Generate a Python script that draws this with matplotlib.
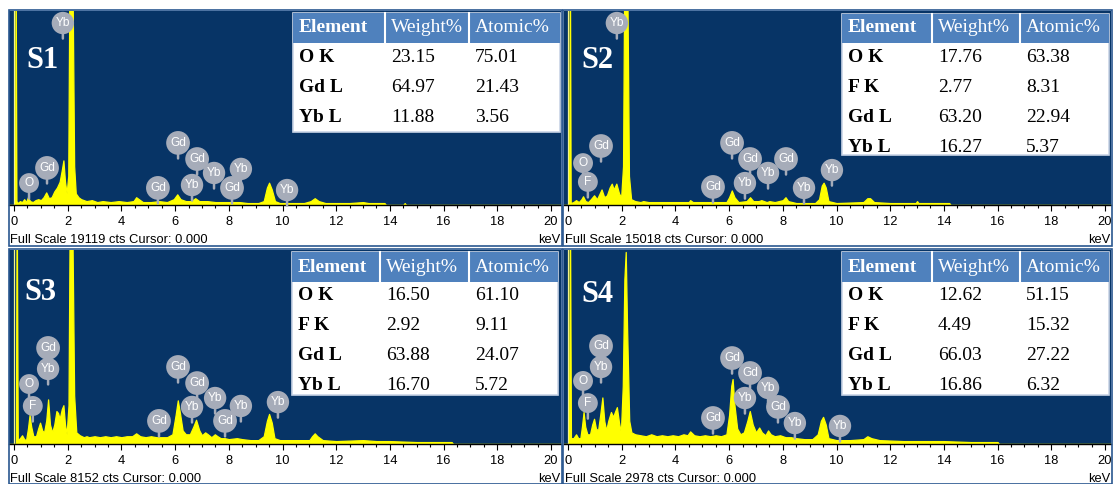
from matplotlib import pyplot as plt
from matplotlib.patches import Rectangle

W, H = 1116, 484

names = ['S1', 'S2', 'S3', 'S4']
full_scale = [19119, 15018, 8152, 2978]

# spectra: (energy keV, intensity % of full scale)
s1_spec = [(-0.2, 0), (0.04, 0), (0.06, 130), (0.09, 2), (0.15, 1), (0.22, 2), (0.3, 1.5), (0.38, 3),
           (0.45, 1.5), (0.52, 4), (0.6, 2), (0.7, 1.5), (0.8, 2.5), (0.9, 3), (1.0, 2.5), (1.1, 4),
           (1.2, 6.5), (1.3, 3.5), (1.4, 4), (1.5, 7), (1.6, 9), (1.7, 12), (1.78, 18), (1.84, 23),
           (1.9, 12), (1.96, 6), (2.02, 15), (2.07, 130), (2.17, 130), (2.24, 20), (2.3, 6), (2.4, 4),
           (2.5, 3), (2.7, 2), (2.9, 2.5), (3.1, 1.5), (3.3, 2), (3.6, 1.5), (3.9, 2), (4.2, 1.5),
           (4.45, 2), (4.55, 4), (4.65, 3), (4.8, 1.5), (5.1, 1.5), (5.4, 2), (5.7, 1.5), (5.95, 3),
           (6.08, 5.5), (6.2, 3), (6.4, 2), (6.6, 2), (6.75, 3.5), (6.9, 2), (7.2, 2), (7.5, 1.5),
           (7.8, 1.5), (8.1, 1.5), (8.4, 1.5), (8.7, 1), (9.1, 1), (9.3, 2), (9.42, 9), (9.5, 11.5),
           (9.6, 8), (9.72, 2), (9.9, 1), (10.8, 1), (11.05, 2), (11.2, 3.5), (11.35, 2), (11.6, 1),
           (12.5, 1), (13.0, 1.5), (13.2, 1), (13.8, 1), (13.85, 0), (14.5, 0), (14.55, 1), (14.6, 0),
           (20.5, 0)]
s2_spec = [(-0.2, 0), (0.04, 0), (0.07, 130), (0.1, 1), (0.2, 1.5), (0.3, 2.5), (0.4, 1.5), (0.5, 3),
           (0.56, 4.5), (0.65, 2), (0.75, 1.5), (0.85, 3), (0.97, 5), (1.08, 3), (1.25, 8), (1.35, 4),
           (1.45, 5), (1.55, 9), (1.63, 11), (1.7, 8), (1.8, 11), (1.9, 6), (1.98, 4), (2.05, 20),
           (2.1, 130), (2.2, 130), (2.27, 15), (2.35, 3), (2.5, 2), (2.7, 1.5), (2.8, 2), (3.0, 1.5),
           (3.4, 1.5), (3.8, 1.5), (4.2, 1.5), (4.5, 1.5), (4.55, 2.5), (4.65, 1.5), (5.2, 1.5),
           (5.9, 1.5), (6.0, 4), (6.1, 7.5), (6.2, 4), (6.35, 1.5), (6.65, 2), (6.78, 4), (6.9, 2),
           (7.1, 2), (7.2, 2.5), (7.4, 1.5), (7.5, 2), (7.7, 1.5), (8.0, 2.5), (8.1, 4), (8.2, 2),
           (8.5, 1), (9.2, 1), (9.35, 3), (9.45, 10), (9.52, 11.5), (9.6, 9), (9.7, 2), (10.0, 1),
           (11.0, 1.5), (11.15, 3.5), (11.25, 3.5), (11.4, 1.5), (12.0, 1), (12.95, 1), (13.0, 2),
           (13.05, 1), (14.2, 1), (14.25, 0), (20.5, 0)]
s3_spec = [(-0.2, 0), (0.07, 0), (0.1, 130), (0.14, 2), (0.22, 3), (0.3, 4.5), (0.38, 2.5), (0.45, 2),
           (0.52, 8), (0.58, 15), (0.64, 9), (0.72, 4), (0.82, 4), (0.9, 8), (0.97, 11), (1.05, 7),
           (1.12, 6), (1.2, 12), (1.27, 23), (1.34, 10), (1.42, 6), (1.5, 10), (1.58, 17), (1.64, 16),
           (1.7, 13), (1.78, 18), (1.84, 20), (1.9, 10), (1.96, 5), (2.03, 20), (2.08, 130),
           (2.16, 130), (2.24, 25), (2.32, 6), (2.45, 4.5), (2.6, 3.5), (2.7, 4), (2.8, 3.5), (3.0, 4),
           (3.2, 3.5), (3.4, 4), (3.6, 3.5), (3.8, 4), (4.0, 3.5), (4.2, 4), (4.4, 4), (4.55, 5.5),
           (4.7, 4), (4.9, 3.5), (5.1, 4), (5.3, 3.5), (5.5, 3.5), (5.7, 3.5), (5.9, 5), (6.02, 15),
           (6.1, 22.5), (6.18, 16), (6.28, 7), (6.4, 5), (6.55, 5), (6.68, 9), (6.78, 12.5), (6.9, 7),
           (7.0, 4.5), (7.12, 6), (7.22, 5), (7.35, 3.5), (7.48, 5), (7.58, 4), (7.7, 3), (7.85, 3),
           (8.0, 2.5), (8.3, 3), (8.5, 2.5), (8.8, 2), (9.1, 2), (9.3, 4), (9.42, 12), (9.5, 15.5),
           (9.6, 11), (9.7, 3), (9.9, 2), (10.5, 2), (11.0, 2), (11.1, 4), (11.2, 5.5), (11.3, 4),
           (11.5, 2), (12.0, 1.5), (13.0, 2), (13.5, 1.5), (14.0, 1.5), (15.0, 1), (16.3, 1),
           (16.35, 0), (20.5, 0)]
s4_spec = [(-0.2, 0), (0.04, 0), (0.07, 130), (0.11, 3), (0.2, 3), (0.3, 5), (0.38, 3), (0.46, 3),
           (0.52, 9), (0.58, 16.5), (0.64, 9), (0.72, 5), (0.82, 5), (0.9, 10), (0.97, 13), (1.04, 8),
           (1.12, 7), (1.2, 15), (1.28, 24), (1.35, 12), (1.42, 7), (1.5, 12), (1.6, 16.5), (1.68, 14),
           (1.76, 17), (1.82, 19), (1.9, 11), (1.97, 6), (2.04, 30), (2.1, 85), (2.15, 99), (2.2, 60),
           (2.28, 12), (2.36, 6), (2.5, 5), (2.7, 4.5), (2.9, 4), (3.1, 5), (3.3, 4), (3.5, 4.5),
           (3.7, 4), (3.9, 4.5), (4.1, 4), (4.3, 5), (4.45, 4.5), (4.55, 6.5), (4.7, 4.5), (4.9, 4),
           (5.1, 4.5), (5.3, 4), (5.5, 4.5), (5.7, 4), (5.9, 5), (6.0, 15), (6.08, 30), (6.13, 33.5),
           (6.2, 20), (6.3, 8), (6.42, 5), (6.55, 6), (6.68, 12), (6.77, 17), (6.88, 10), (7.0, 6),
           (7.12, 8.5), (7.22, 6), (7.35, 4.5), (7.45, 7), (7.55, 5), (7.7, 4), (7.9, 4.5), (8.1, 3.5),
           (8.3, 3.5), (8.5, 3), (8.8, 2.5), (9.1, 2.5), (9.3, 5), (9.42, 12), (9.5, 14), (9.6, 10),
           (9.7, 3), (10.0, 2), (10.5, 2), (11.0, 2.5), (11.15, 4), (11.3, 3), (11.6, 2), (12.5, 1.5),
           (14.0, 1.5), (15.0, 1), (16.0, 1), (16.05, 0), (20.5, 0)]
spectra = [s1_spec, s2_spec, s3_spec, s4_spec]

# peak markers: (element, keV, height % of the balloon centre)
s1_marks = [('Yb', 1.82, 93.8), ('O', 0.56, 11.3), ('Gd', 1.23, 19.1), ('Gd', 6.11, 32.0),
            ('Gd', 6.82, 23.7), ('Yb', 7.45, 16.5), ('Yb', 8.45, 18.6), ('Gd', 5.36, 8.8),
            ('Yb', 6.63, 10.3), ('Gd', 8.12, 8.8), ('Yb', 10.17, 7.7)]
s2_marks = [('Yb', 1.82, 93.8), ('O', 0.56, 21.6), ('Gd', 1.23, 30.4), ('F', 0.74, 11.9),
            ('Gd', 6.11, 32.0), ('Gd', 6.78, 23.7), ('Gd', 8.12, 23.7), ('Yb', 7.45, 16.5),
            ('Gd', 5.40, 9.3), ('Yb', 6.59, 11.3), ('Yb', 8.79, 8.8), ('Yb', 9.83, 18.0)]
s3_marks = [('Gd', 1.27, 49.5), ('Yb', 1.27, 38.7), ('O', 0.56, 30.9), ('F', 0.70, 19.6),
            ('Gd', 6.11, 39.7), ('Gd', 6.82, 31.4), ('Yb', 7.49, 23.7), ('Yb', 6.63, 19.1),
            ('Yb', 8.45, 19.6), ('Gd', 7.86, 11.9), ('Gd', 5.40, 11.9), ('Yb', 9.83, 21.6)]
s4_marks = [('Gd', 1.23, 50.5), ('Yb', 1.23, 39.7), ('O', 0.56, 32.5), ('F', 0.74, 21.1),
            ('Gd', 6.11, 44.3), ('Gd', 6.78, 36.6), ('Yb', 7.45, 28.9), ('Yb', 6.59, 23.7),
            ('Gd', 7.82, 19.1), ('Yb', 8.45, 10.8), ('Gd', 5.40, 13.4), ('Yb', 10.13, 9.3)]
marks = [s1_marks, s2_marks, s3_marks, s4_marks]

# composition tables
table_header = ['Element', 'Weight%', 'Atomic%']
s1_elem = ['O K', 'Gd L', 'Yb L']
s1_weight = [23.15, 64.97, 11.88]
s1_atomic = [75.01, 21.43, 3.56]
s2_elem = ['O K', 'F K', 'Gd L', 'Yb L']
s2_weight = [17.76, 2.77, 63.20, 16.27]
s2_atomic = [63.38, 8.31, 22.94, 5.37]
s3_elem = ['O K', 'F K', 'Gd L', 'Yb L']
s3_weight = [16.50, 2.92, 63.88, 16.70]
s3_atomic = [61.10, 9.11, 24.07, 5.72]
s4_elem = ['O K', 'F K', 'Gd L', 'Yb L']
s4_weight = [12.62, 4.49, 66.03, 16.86]
s4_atomic = [51.15, 15.32, 27.22, 6.32]
tables = [(s1_elem, s1_weight, s1_atomic), (s2_elem, s2_weight, s2_atomic),
          (s3_elem, s3_weight, s3_atomic), (s4_elem, s4_weight, s4_atomic)]

# layout in picture pixels
plot_box = [(9, 11, 561, 205), (564, 11, 1111, 205), (9, 250, 561, 444), (564, 250, 1111, 444)]
outer_box = [(9, 10, 562, 246), (563, 10, 1112, 246), (9, 249, 562, 484), (563, 249, 1112, 484)]
zero_px = [14, 568, 14, 568]
px_per_kev = 26.85
label_pos = [(42, 60), (597, 60), (40, 293), (597, 294)]
tab_cols = [(293, 385, 469, 560), (842, 932, 1020, 1109), (292, 380, 469, 558), (842, 932, 1020, 1109)]
tab_y = [(13, 43, 132, 28, [58, 88, 118]), (14, 43, 155, 28, [58, 88, 117, 147]),
         (252, 282, 395, 267, [296, 326, 355, 385]), (252, 282, 395, 267, [296, 326, 355, 385])]

BG = '#073466'
YELLOW = '#FFFF00'
BALLOON = '#A6ACB9'
HEAD = '#4F81BD'
SANS = 'Liberation Sans'
SERIF = 'Liberation Serif'

fig = plt.figure(figsize=(W / 100, H / 100), dpi=100)

for i in range(4):
    l, t, r, b = plot_box[i]
    ax = fig.add_axes([l / W, 1 - b / H, (r - l) / W, (b - t) / H])
    ax.set_facecolor(BG)
    ax.set_xlim((l - zero_px[i]) / px_per_kev, (r - zero_px[i]) / px_per_kev)
    ax.set_ylim(0, 100)
    kev = [p[0] for p in spectra[i]]
    cts = [p[1] for p in spectra[i]]
    ax.axvline(0, color='#F2F28C', lw=0.9, zorder=1)
    ax.fill_between(kev, cts, 0, color=YELLOW, lw=0.9, zorder=2)
    for el, k, y in marks[i]:
        ax.annotate(el, xy=(k, y - 8), xytext=(k, y), ha='center', va='center',
                    fontsize=8.6, color='white', family=SANS, zorder=4, annotation_clip=False,
                    bbox=dict(boxstyle='circle,pad=0.33', fc=BALLOON, ec='none'),
                    arrowprops=dict(arrowstyle='-', color=BALLOON, lw=1.8, shrinkA=0, shrinkB=0))
    ax.set_xticks(range(0, 21, 2))
    ax.set_xticks([x / 2 for x in range(0, 41)], minor=True)
    ax.set_yticks([])
    ax.tick_params(axis='x', which='major', length=4, width=0.8, pad=4,
                   labelsize=9.3, labelfontfamily=SANS)
    ax.tick_params(axis='x', which='minor', length=2.3, width=0.8)
    for s in ['top', 'left', 'right']:
        ax.spines[s].set_visible(False)
    ax.spines['bottom'].set_linewidth(1.0)

# overlay in pixel units for frames, texts and tables
ov = fig.add_axes([0, 0, 1, 1], zorder=10)
ov.set_xlim(0, W)
ov.set_ylim(H, 0)
ov.axis('off')

for i in range(4):
    l, t, r, b = outer_box[i]
    ov.add_patch(Rectangle((l, t), r - l, b - t, fill=False, ec='#2A5790', lw=1.2))
    pl, pt, pr, pb = plot_box[i]
    ov.text(pl + 1, pb + 35, f'Full Scale {full_scale[i]} cts Cursor: 0.000', ha='left',
            va='center', fontsize=9.3, family=SANS)
    ov.text(pr - 1, pb + 35, 'keV', ha='right', va='center', fontsize=9.3, family=SANS)
    lx, ly = label_pos[i]
    ov.text(lx, ly, names[i], ha='center', va='center', fontsize=22, fontweight='bold',
            color='white', family=SERIF)

    # table
    c0, c1, c2, c3 = tab_cols[i]
    top, hb, bot, hy, rows = tab_y[i]
    frame = Rectangle((c0, top), c3 - c0, bot - top, fc='white', ec='#C9D4E6', lw=1.2)
    ov.add_patch(frame)
    ov.add_patch(Rectangle((c0, top), c3 - c0, hb - top, fc=HEAD, ec='none'))
    for cx in (c1, c2):
        ov.plot([cx, cx], [top, hb], color='white', lw=1.5)
    xs = [c0 + 6, c1 + 6, c2 + 6]
    for j, h in enumerate(table_header):
        ov.text(xs[j], hy, h, ha='left', va='center', fontsize=14, color='white',
                family=SERIF, fontweight='bold' if j == 0 else 'normal')
    elem, wt, at = tables[i]
    for j, y in enumerate(rows):
        cells = [elem[j], f'{wt[j]:.2f}', f'{at[j]:.2f}']
        for k, txt in enumerate(cells):
            tx = ov.text(xs[k], y, txt, ha='left', va='center', fontsize=14, color='black',
                         family=SERIF, fontweight='bold' if k == 0 else 'normal')
            tx.set_clip_path(frame)

fig.savefig('out.png', dpi=100)
